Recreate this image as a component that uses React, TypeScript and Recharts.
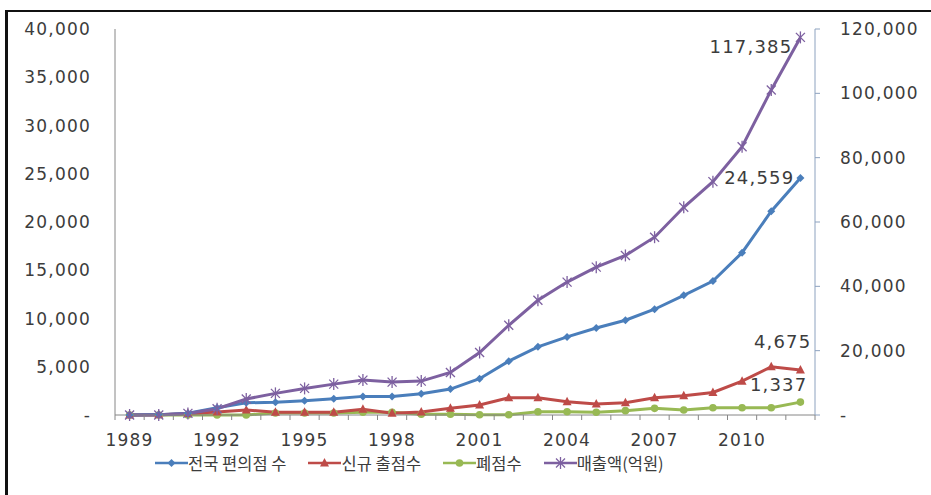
import React from "react";
import { LineChart, Line, XAxis, YAxis, Legend } from "recharts";

const years = ["1989","1990","1991","1992","1993","1994","1995","1996","1997","1998","1999","2000",
  "2001","2002","2003","2004","2005","2006","2007","2008","2009","2010","2011","2012"];
const stores = [7, 39, 175, 750, 1270, 1310, 1480, 1690, 1930, 1930, 2200, 2690,
  3760, 5580, 7060, 8090, 9020, 9820, 10960, 12400, 13880, 16820, 21120, 24559];
const newStores = [0, 30, 150, 300, 520, 280, 280, 280, 590, 170, 300, 690,
  1030, 1790, 1790, 1370, 1140, 1270, 1790, 2000, 2340, 3510, 5000, 4675];
const closures = [0, 0, 0, 0, 0, 200, 200, 200, 280, 280, 70, 70,
  30, 30, 340, 340, 280, 450, 690, 520, 750, 750, 750, 1337];
const sales = [0, 0, 500, 1950, 4960, 6720, 8270, 9600, 10850, 10230, 10540, 13230,
  19430, 27900, 35650, 41320, 45970, 49600, 55280, 64580, 72540, 83390, 101060, 117385];

const leftTicks = [0, 5000, 10000, 15000, 20000, 25000, 30000, 35000, 40000];
const rightTicks = [0, 20000, 40000, 60000, 80000, 100000, 120000];

const names = ["전국 편의점 수", "신규 출점수", "폐점수", "매출액(억원)"];
const colors = ["#4a7ebb", "#be4b48", "#98b954", "#7d60a0"];

const data = years.map((y, i) => ({
  year: y, stores: stores[i], newStores: newStores[i], closures: closures[i], sales: sales[i],
}));

const numFont = { fontFamily: "DejaVu Sans", fontSize: 17, fill: "#3c3c3c", letterSpacing: 1.2 };
const fmt = (v: number) => (v === 0 ? "-" : v.toLocaleString("en-US"));
const band = 700 / years.length;

function Marker({ kind, cx, cy, color }: any) {
  if (cx == null || cy == null) return null;
  if (kind === 0)
    return <path d={`M${cx},${cy - 4} L${cx + 4},${cy} L${cx},${cy + 4} L${cx - 4},${cy} Z`} fill={color} />;
  if (kind === 1)
    return <path d={`M${cx},${cy - 5} L${cx + 4.5},${cy + 3.5} L${cx - 4.5},${cy + 3.5} Z`} fill={color} />;
  if (kind === 2) return <circle cx={cx} cy={cy} r={3.8} fill={color} />;
  return (
    <g stroke={color} strokeWidth={1.3}>
      <line x1={cx - 4.5} y1={cy - 4.5} x2={cx + 4.5} y2={cy + 4.5} />
      <line x1={cx - 4.5} y1={cy + 4.5} x2={cx + 4.5} y2={cy - 4.5} />
      <line x1={cx} y1={cy - 6} x2={cx} y2={cy + 6} />
    </g>
  );
}

const dot = (kind: number) => (p: any) => (
  <Marker key={`d${kind}-${p.index}`} kind={kind} cx={p.cx} cy={p.cy} color={colors[kind]} />
);

const lastLabel = (dx: number, dy: number) => (p: any) => {
  if (p.index !== years.length - 1) return null;
  return (
    <text key="lbl" x={p.x + dx} y={p.y + dy} textAnchor="end" dominantBaseline="central"
      style={{ ...numFont, fontSize: 18 }} fill="#3c3c3c">
      {Number(p.value).toLocaleString("en-US")}
    </text>
  );
};

function YearTick({ x, y, payload, index }: any) {
  return (
    <g>
      {index % 3 === 0 && (
        <text x={x} y={y + 31} textAnchor="middle" style={numFont} fill="#3c3c3c">{payload.value}</text>
      )}
      {index === 0 && <line x1={x - band / 2} y1={y} x2={x - band / 2} y2={y + 5} stroke="#868686" />}
      <line x1={x + band / 2} y1={y} x2={x + band / 2} y2={y + 5} stroke="#868686" />
    </g>
  );
}

function LegendBox() {
  return (
    <div style={{ display: "flex", fontFamily: "'Noto Sans CJK KR'", fontSize: 16.5, color: "#3c3c3c", lineHeight: "20px" }}>
      {names.map((n, i) => (
        <div key={n} style={{ display: "flex", alignItems: "center", marginRight: 22 }}>
          <svg width={33} height={14}>
            <line x1={0} y1={7} x2={33} y2={7} stroke={colors[i]} strokeWidth={2.5} />
            <Marker kind={i} cx={16.5} cy={7} color={colors[i]} />
          </svg>
          <span>{n}</span>
        </div>
      ))}
    </div>
  );
}

export default function App() {
  return (
    <div style={{ position: "absolute", left: 0, top: 0, width: 931, height: 495, overflow: "hidden", background: "#fff" }}>
      <div style={{ position: "absolute", left: 5, top: 10, width: 940, height: 500,
        borderTop: "2px solid #111", borderLeft: "3px solid #111" }} />
      <LineChart width={931} height={495} data={data} margin={{ top: 29, right: 0, bottom: 50, left: 0 }}
        style={{ position: "absolute", left: 0, top: 0 }}>
        <XAxis dataKey="year" height={30} interval={0} tickSize={0} tickMargin={0} tickLine={false}
          padding={{ left: band / 2, right: band / 2 }} axisLine={{ stroke: "#868686" }} tick={<YearTick />} />
        <YAxis yAxisId="left" width={115} domain={[0, 40000]} ticks={leftTicks} tickFormatter={fmt}
          tickLine={false} tickSize={0} tickMargin={24} axisLine={{ stroke: "#868686" }} tick={numFont} />
        <YAxis yAxisId="right" orientation="right" width={116} domain={[0, 120000]} ticks={rightTicks}
          tickFormatter={fmt} tickSize={5} tickMargin={20} axisLine={{ stroke: "#8da2bf" }}
          tickLine={{ stroke: "#8da2bf" }} tick={numFont} />
        <Legend layout="horizontal" verticalAlign="middle" content={<LegendBox />}
          wrapperStyle={{ top: 453, left: 155, width: 640 }} />
        <Line yAxisId="left" dataKey="closures" name={names[2]} stroke={colors[2]} strokeWidth={3}
          dot={dot(2)} label={lastLabel(7, -18)} isAnimationActive={false} />
        <Line yAxisId="left" dataKey="newStores" name={names[1]} stroke={colors[1]} strokeWidth={3}
          dot={dot(1)} label={lastLabel(11, -28)} isAnimationActive={false} />
        <Line yAxisId="left" dataKey="stores" name={names[0]} stroke={colors[0]} strokeWidth={3}
          dot={dot(0)} label={lastLabel(-6, -1)} isAnimationActive={false} />
        <Line yAxisId="right" dataKey="sales" name={names[3]} stroke={colors[3]} strokeWidth={3}
          dot={dot(3)} label={lastLabel(-8, 9)} isAnimationActive={false} />
      </LineChart>
    </div>
  );
}
